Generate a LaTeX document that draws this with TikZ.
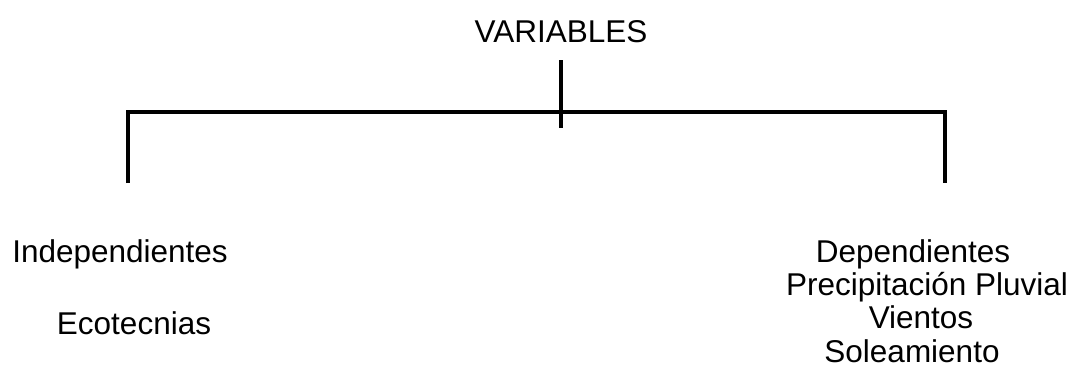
\documentclass[tikz,border=0pt]{standalone}
\usepackage{fontspec}
\setmainfont{Liberation Sans}
\begin{document}
\begin{tikzpicture}[x=1pt,y=-1pt,
  lbl/.style={inner sep=0pt,anchor=base,font=\fontsize{31.5}{33}\selectfont},
  bar/.style={line width=4pt,line join=miter}]
\useasboundingbox[fill=white] (0,0) rectangle (1076,373);
\node[lbl] (var) at (561,42) {VARIABLES};
\coordinate (tickT) at (561,60);
\coordinate (tickB) at (561,128);
\coordinate (lT) at (128,112);
\coordinate (lB) at (128,183);
\coordinate (rT) at (945,112);
\coordinate (rB) at (945,183);
\draw[bar] (lB) -- (lT) -- (rT) -- (rB);
\draw[bar] (tickT) -- (tickB);
\node[lbl] (ind) at (120,262) {Independientes};
\node[lbl] (eco) at (134,334) {Ecotecnias};
\node[lbl] (dep) at (913,262) {Dependientes};
\node[lbl] (pre) at (927,295) {Precipitación Pluvial};
\node[lbl] (vie) at (921,328) {Vientos};
\node[lbl] (sol) at (912,362) {Soleamiento};
\end{tikzpicture}
\end{document}
